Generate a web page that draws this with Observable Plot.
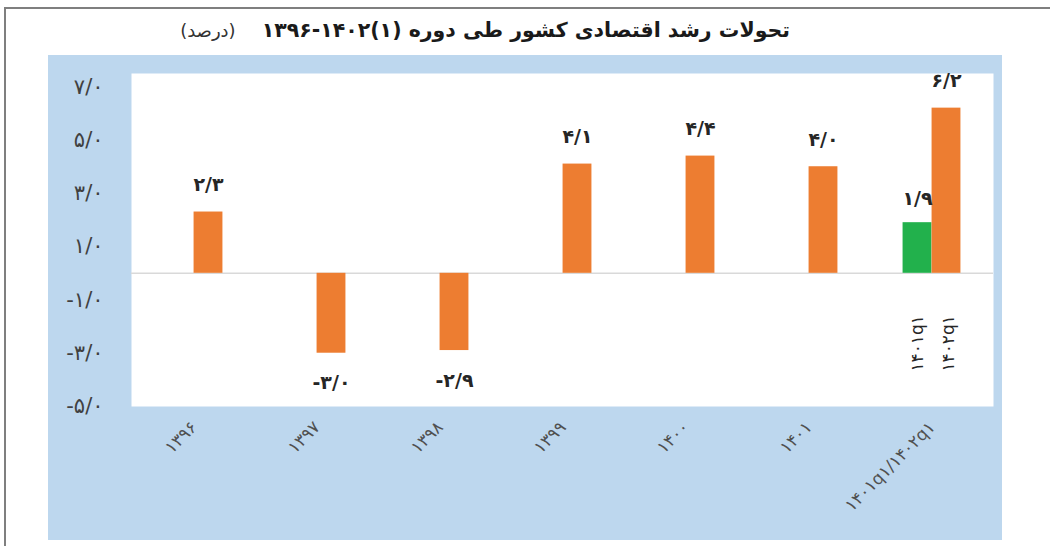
<!DOCTYPE html>
<html><head><meta charset="utf-8">
<script src="https://cdn.jsdelivr.net/npm/d3@7"></script>
<script src="https://cdn.jsdelivr.net/npm/@observablehq/plot@0.6"></script>
<style>
body{margin:0;background:#fff;}
#wrap{position:relative;width:1050px;height:546px;overflow:hidden;font-family:"DejaVu Sans",sans-serif;background:#fff;}
#bt{position:absolute;left:4px;top:7px;width:1046px;height:0;border-top:2px solid #7f7f7f;}
#bl{position:absolute;left:4px;top:7px;width:0;height:539px;border-left:2px solid #7f7f7f;}
#title{position:absolute;top:16px;right:260px;direction:rtl;white-space:nowrap;color:#1a1a1a;line-height:28px;}
#title .main{font-weight:bold;font-size:20.5px;}
#title .unit{font-size:18px;margin-right:26px;color:#333;}
#chart{position:absolute;left:48px;top:55px;}
</style></head>
<body><div id="wrap"><div id="bt"></div><div id="bl"></div><div id="title"></div><div id="chart"></div></div>
<script>
// ---- data ----
const categories = ["۱۳۹۶","۱۳۹۷","۱۳۹۸","۱۳۹۹","۱۴۰۰","۱۴۰۱","۱۴۰۱q۱/۱۴۰۲q۱"];
const annualGrowth = [2.3, -3.0, -2.9, 4.1, 4.4, 4.0, 6.2];
const annualLabels = ["۲/۳","-۳/۰","-۲/۹","۴/۱","۴/۴","۴/۰","۶/۲"];
const quarterCategory = ["۱۴۰۱q۱/۱۴۰۲q۱"];
const quarterGrowth = [1.9];
const quarterLabels = ["۱/۹"];
const quarterNames = ["۱۴۰۱q۱","۱۴۰۲q۱"];
const yTicks = [-5, -3, -1, 1, 3, 5, 7];
const yTickLabels = ["-۵/۰","-۳/۰","-۱/۰","۱/۰","۳/۰","۵/۰","۷/۰"];
const titleMain = "تحولات رشد اقتصادی کشور طی دوره ";
const titlePeriod = "۱۳۹۶-۱۴۰۲(۱)";
const titleUnit = "(درصد)";

// ---- title ----
const t = document.getElementById("title");
const m = document.createElement("span"); m.className = "main";
m.textContent = titleMain + "\u2066" + titlePeriod + "\u2069";
const u = document.createElement("span"); u.className = "unit"; u.textContent = titleUnit;
t.appendChild(m); t.appendChild(u);

// ---- chart ----
const W = 954, H = 485, ML = 83, MR = 9, MT = 18, MB = 134;
const orange = categories.map((c, i) => ({c, v: annualGrowth[i], label: annualLabels[i]}));
const green = quarterCategory.map((c, i) => ({c, v: quarterGrowth[i], label: quarterLabels[i]}));
const BW = 29;
const step = (W - ML - MR) / categories.length;
const inset = (step - BW) / 2;
const yMap = new Map(yTicks.map((d, i) => [d, yTickLabels[i]]));
const lblStyle = {fontSize: 19, fontWeight: "bold", fill: "#262626", lineAnchor: "middle"};

const chart = Plot.plot({
  width: W, height: H, marginLeft: ML, marginRight: MR, marginTop: MT, marginBottom: MB,
  style: {background: "#bdd7ee", fontFamily: "DejaVu Sans, sans-serif", overflow: "visible"},
  x: {type: "band", domain: categories, padding: 0, label: null},
  y: {domain: [-5, 7.5], label: null},
  marks: [
    Plot.frame({fill: "white", stroke: "none"}),
    Plot.ruleY([0], {stroke: "#d9d9d9", strokeWidth: 1.5}),
    Plot.barY(green, {x: "c", y: "v", fill: "#22b14c", dx: -BW / 2, insetLeft: inset, insetRight: inset}),
    Plot.barY(orange, {x: "c", y: "v", fill: "#ed7d31", dx: BW / 2, insetLeft: inset, insetRight: inset}),
    Plot.text(orange.filter(d => d.v >= 0), {x: "c", y: "v", text: "label", dx: BW / 2, dy: -27, ...lblStyle}),
    Plot.text(orange.filter(d => d.v < 0), {x: "c", y: "v", text: "label", dx: BW / 2, dy: 30, ...lblStyle}),
    Plot.text(green, {x: "c", y: "v", text: "label", dx: -BW / 2, dy: -24, ...lblStyle}),
    Plot.text([quarterNames[0]], {x: quarterCategory, y: [0], text: d => d, rotate: -90, dx: -BW / 2, dy: 70, fontSize: 17, fill: "#262626"}),
    Plot.text([quarterNames[1]], {x: quarterCategory, y: [0], text: d => d, rotate: -90, dx: BW / 2 + 2, dy: 70, fontSize: 17, fill: "#262626"}),
    Plot.axisY({ticks: yTicks, tickFormat: d => yMap.get(d), tickSize: 0, tickPadding: 28, fontSize: 21, fill: "#404040"}),
    Plot.axisX({tickRotate: -45, tickSize: 0, tickPadding: 18, fontSize: 17, fill: "#505050"})
  ]
});
document.getElementById("chart").appendChild(chart);
</script>
</body></html>
